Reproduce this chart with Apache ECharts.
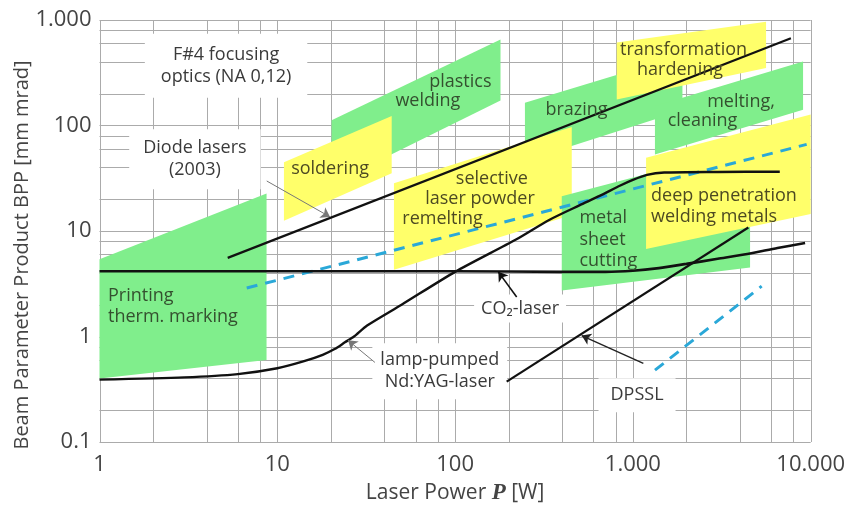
<!DOCTYPE html>
<html><head><meta charset="utf-8">
<script src="https://cdn.jsdelivr.net/npm/echarts@6/dist/echarts.min.js"></script>
<style>html,body{margin:0;padding:0;background:#fff}#c{width:849px;height:510px}</style>
</head><body><div id="c"></div>
<script>
// ---- axis ticks / grid values ----
const xTicks = [1, 10, 100, 1000, 10000];
const yTicks = [0.1, 1, 10, 100, 1000];
const gridX = [1,2,4,6,8, 10,20,40,60,80, 100,200,400,600,800, 1000,2000,4000,6000,8000, 10000];
const gridY = [0.1,0.2,0.4,0.6,0.8, 1,2,4,6,8, 10,20,40,60,80, 100,200,400,600,800, 1000];

// ---- application regions (corners: [power W, BPP]) ----
const plasticsWelding   = [[20.2,27.9],[20.2,112],[180,655],[180,173]];
const soldering         = [[10.9,12.5],[10.9,44.8],[44,123],[44,35.2]];
const brazing           = [[247,46],[247,164],[1900,467],[1900,139]];
const selectiveMelting  = [[45.3,4.3],[45.3,28.4],[453,97],[453,14.2]];
const transformHarden   = [[811,176],[811,611],[5610,964],[5610,350]];
const meltingCleaning   = [[1330,53.2],[1330,153],[9060,404],[9060,141]];
const metalSheetCutting = [[398,2.73],[398,21.4],[4560,63],[4560,4.5]];
const deepPenetration   = [[1186,6.76],[1186,49.5],[10000,127],[10000,14.5]];
const printingMarking   = [[1,0.4],[1,5.4],[8.7,22.7],[8.7,0.6]];

// ---- laser lines ----
const diodeLine   = [[5.26,5.56],[7740,672]];
const fiberDashed = [[6.73,2.88],[9490,66.2]];
const co2Line     = [[1,4.15],[100,4.15],[400,4.1],[700,4.1],[1000,4.2],[1400,4.45],[2000,4.88],[3000,5.45],[4400,6.05],[6500,6.9],[9300,7.7]];
const yagLine     = [[1,0.39],[3,0.41],[6,0.44],[10,0.5],[14,0.58],[18,0.67],[21,0.76],[24,0.88],[27,1.0],[32,1.27],[50,2.0],[100,4.1],[220,8.3],[340,12.8],[500,17.5],[650,21.5],[850,27],[1000,30.5],[1200,34],[1500,35.8],[3000,36.3],[6700,36.5]];
const dpsslLine   = [[195,0.374],[4460,10.8]];
const dpsslDashed = [[1331,0.48],[5300,3.0]];

// ---- arrows [from, to] ----
const diodeArrow = [[8.72,29.8],[19.8,13.6]];
const yagArrow   = [[35.4,0.568],[25,0.92]];
const co2Arrow   = [[222,2.37],[175,4.1]];
const dpsslArrow = [[1145,0.556],[515,1.02]];

const GREEN = '#80ee8c', YELLOW = '#ffff6a';
const FONT = '"Open Sans", "Noto Sans", sans-serif';

const regionList = [
  {pts: plasticsWelding, c: GREEN},
  {pts: soldering, c: YELLOW},
  {pts: brazing, c: GREEN},
  {pts: selectiveMelting, c: YELLOW},
  {pts: transformHarden, c: YELLOW},
  {pts: meltingCleaning, c: GREEN},
  {pts: metalSheetCutting, c: GREEN},
  {pts: deepPenetration, c: YELLOW},
  {pts: printingMarking, c: GREEN}
];

// annotation texts (anchor in data coordinates)
const GT = '#34502f', YT = '#4d4a22', DT = '#3a3a3a';
const boxLabels = [
  {t:'F#4 focusing\noptics (NA 0,12)', p:[5.15,368], pad:[10,16]},
  {t:'Diode lasers\n(2003)', p:[3.44,47.8], pad:[8,14]},
  {t:'lamp-pumped\nNd:YAG-laser', p:[82,0.468], pad:[6,8]},
  {t:'CO\u2082-laser', p:[232,1.84], pad:[3,7]},
  {t:'DPSSL', p:[1055,0.277], pad:[6,12]}
];
const areaLabels = [
  {t:'Printing\ntherm. marking', p:[1.116,1.94], a:'left', c:GT},
  {t:'soldering', p:[19.8,38.5], a:'center', c:YT},
  {t:'plastics', p:[107,260], a:'center', c:GT},
  {t:'welding', p:[70.3,172], a:'center', c:GT},
  {t:'selective', p:[161,31], a:'center', c:YT},
  {t:'laser powder', p:[138,20], a:'center', c:YT},
  {t:'remelting', p:[85,13], a:'center', c:YT},
  {t:'brazing', p:[482,141.6], a:'center', c:GT},
  {t:'transformation', p:[1927,521], a:'center', c:YT},
  {t:'hardening', p:[1841,338], a:'center', c:YT},
  {t:'melting,', p:[4055,169], a:'center', c:GT},
  {t:'cleaning', p:[2462,110], a:'center', c:GT},
  {t:'deep penetration\nwelding metals', p:[1265,17.1], a:'left', c:YT},
  {t:'metal\nsheet\ncutting', p:[500,8.28], a:'left', c:GT}
];

const fmt = v => v >= 1000 ? String(Math.round(v)).replace(/\B(?=(\d{3})+(?!\d))/g, '.') : String(v);

const chart = echarts.init(document.getElementById('c'));
const lineS = (data, color, width, z, opts) => Object.assign({
  type:'line', data, showSymbol:false, symbol:'none', silent:true, z,
  lineStyle:{color, width}
}, opts || {});
const arrowS = (pair, color, width) => ({
  type:'lines', coordinateSystem:'cartesian2d', silent:true, z:6,
  symbol:['none','arrow'], symbolSize:9,
  lineStyle:{color, width, opacity:1},
  data:[{coords: pair}]
});

chart.setOption({
  animation:false,
  grid:{left:99.5, right:38.3, top:20, bottom:66, containLabel:false},
  graphic:[{type:'text', x:22, y:255, rotation:Math.PI/2, z:10,
    style:{text:'Beam Parameter Product BPP [mm mrad]', fill:'#444', font:'20px '+FONT, align:'center', verticalAlign:'middle'}}],
  xAxis:{type:'log', logBase:10, min:1, max:10000,
    axisLine:{show:false}, axisTick:{show:false}, splitLine:{show:false},
    axisLabel:{formatter:v=>fmt(v), fontSize:22, color:'#444', margin:12, fontFamily:FONT},
    name:'Laser Power {it|P} [W]', nameLocation:'middle', nameGap:40,
    nameTextStyle:{fontSize:21, color:'#444', fontFamily:FONT,
      rich:{it:{fontFamily:'"Liberation Serif", serif', fontStyle:'italic', fontWeight:'bold', fontSize:23, color:'#444'}}}
  },
  yAxis:{type:'log', logBase:10, min:0.1, max:1000,
    axisLine:{show:false}, axisTick:{show:false}, splitLine:{show:false},
    axisLabel:{formatter:v=>fmt(v), fontSize:22, color:'#444', margin:8, fontFamily:FONT}
  },
  series:[
    {type:'custom', z:1, silent:true, clip:false,
      data: gridX.map(v=>[v,1]),
      renderItem:(params, api)=>{
        const v = api.value(0);
        const a = api.coord([v, 0.1]), b = api.coord([v, 1000]);
        return {type:'line', shape:{x1:Math.round(a[0])+0.5, y1:a[1], x2:Math.round(b[0])+0.5, y2:b[1]}, style:{stroke:'#ababab', lineWidth:1}};
      }},
    {type:'custom', z:1, silent:true, clip:false,
      data: gridY.map(v=>[1,v]),
      renderItem:(params, api)=>{
        const v = api.value(1);
        const a = api.coord([1, v]), b = api.coord([10000, v]);
        return {type:'line', shape:{x1:a[0], y1:Math.round(a[1])+0.5, x2:b[0], y2:Math.round(b[1])+0.5}, style:{stroke:'#ababab', lineWidth:1}};
      }},
    {type:'custom', z:2, silent:true, clip:false,
      data: regionList.map(r=>r.pts[0]),
      renderItem:(params, api)=>{
        const r = regionList[params.dataIndex];
        return {type:'polygon', shape:{points: r.pts.map(p=>api.coord(p))}, style:{fill:r.c}};
      }},
    {type:'custom', z:3, silent:true, clip:false,
      data: boxLabels.map(l=>l.p),
      renderItem:(params, api)=>{
        const l = boxLabels[params.dataIndex];
        const c = api.coord(l.p);
        return {type:'text', x:c[0], y:c[1], style:{text:l.t, fill:DT, font:'18px '+FONT, lineHeight:22,
          align:'center', verticalAlign:'middle', backgroundColor:'#ffffff', padding:l.pad}};
      }},
    lineS(diodeLine, '#111', 2.2, 5),
    lineS(fiberDashed, '#2aa8d8', 3, 5, {lineStyle:{color:'#2aa8d8', width:3, type:[11,8]}}),
    lineS(co2Line, '#111', 2.6, 5, {smooth:0.25}),
    lineS(yagLine, '#111', 2.4, 5, {smooth:0.25}),
    lineS(dpsslLine, '#111', 2.2, 5),
    lineS(dpsslDashed, '#2aa8d8', 3, 5, {lineStyle:{color:'#2aa8d8', width:3, type:[11,8]}}),
    arrowS(diodeArrow, '#777', 1),
    arrowS(yagArrow, '#777', 1),
    arrowS(co2Arrow, '#111', 1.6),
    arrowS(dpsslArrow, '#222', 1.4),
    {type:'custom', z:7, silent:true, clip:false,
      data: areaLabels.map(l=>l.p),
      renderItem:(params, api)=>{
        const l = areaLabels[params.dataIndex];
        const c = api.coord(l.p);
        return {type:'text', x:c[0], y:c[1], style:{text:l.t, fill:l.c, font:'18px '+FONT, lineHeight:21.5,
          align:l.a, verticalAlign:'middle'}};
      }}
  ]
});
</script></body></html>
